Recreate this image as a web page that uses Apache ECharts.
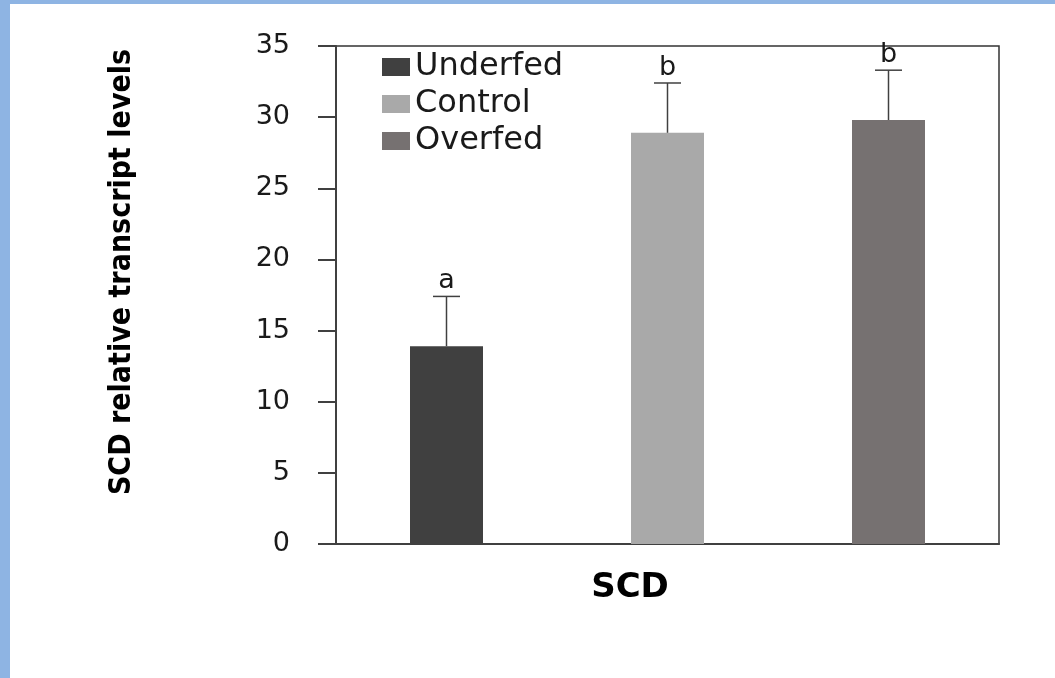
<!DOCTYPE html>
<html>
<head>
<meta charset="utf-8">
<script src="https://cdn.jsdelivr.net/npm/echarts@6/dist/echarts.min.js"></script>
<style>
  html, body { margin: 0; padding: 0; }
  #frame { position: relative; width: 1055px; height: 678px; background: #8eb4e3; }
  #chart { position: absolute; left: 10px; top: 4px; width: 1045px; height: 674px; background: #fff; }
</style>
</head>
<body>
<div id="frame"><div id="chart"></div></div>
<script>
var categories = ['Underfed', 'Control', 'Overfed'];
var means = [13.9, 28.9, 29.8];
var errors = [3.5, 3.5, 3.5];
var letters = ['a', 'b', 'b'];
var yTicks = [0, 5, 10, 15, 20, 25, 30, 35];

var barColors = ['#404040', '#a9a9a9', '#767171'];

var myChart = echarts.init(document.getElementById('chart'));

// one bar series per group so the legend gets three entries
var barSeries = categories.map(function (name, i) {
    var d = categories.map(function (c, j) { return j === i ? means[i] : '-'; });
    return {
        name: name,
        type: 'bar',
        barWidth: 73,
        barGap: '-100%',
        itemStyle: {color: barColors[i]},
        data: d
    };
});

var errData = means.map(function (m, i) { return [i, m, m + errors[i]]; });

var option = {
    animation: false,
    backgroundColor: '#fff',
    grid: {left: 326, right: 56, top: 42, bottom: 134, show: true, borderColor: '#333', borderWidth: 1.5},
    legend: {
        orient: 'vertical',
        left: 367,
        top: 42,
        itemWidth: 28,
        itemHeight: 18,
        itemGap: 5,
        icon: 'rect',
        data: categories,
        textStyle: {fontFamily: 'DejaVu Sans', fontSize: 32, color: '#1a1a1a', lineHeight: 30}
    },
    xAxis: {
        type: 'category',
        data: categories,
        axisLine: {lineStyle: {color: '#404040', width: 2}},
        axisTick: {show: false},
        axisLabel: {show: false}
    },
    yAxis: {
        type: 'value',
        min: yTicks[0],
        max: yTicks[yTicks.length - 1],
        interval: 5,
        splitLine: {show: false},
        axisLine: {show: true, lineStyle: {color: '#404040', width: 2}},
        axisTick: {show: true, length: 18, lineStyle: {color: '#404040', width: 2}},
        axisLabel: {margin: 46, fontFamily: 'DejaVu Sans', fontSize: 27, color: '#1a1a1a'}
    },
    graphic: [
        {
            type: 'text',
            x: 112, y: 268,
            rotation: Math.PI / 2,
            style: {
                text: 'SCD relative transcript levels',
                font: 'bold 30px "Liberation Sans Narrow", "DejaVu Sans Condensed", "DejaVu Sans", sans-serif',
                fill: '#000',
                textAlign: 'center',
                textVerticalAlign: 'middle'
            }
        },
        {
            type: 'text',
            x: 620, y: 584,
            style: {
                text: 'SCD',
                font: 'bold 34px "DejaVu Sans", sans-serif',
                fill: '#000',
                textAlign: 'center',
                textVerticalAlign: 'middle'
            }
        }
    ],
    series: barSeries.concat([{
        type: 'custom',
        z: 5,
        data: errData,
        encode: {x: 0, y: [1, 2]},
        renderItem: function (params, api) {
            var base = api.coord([api.value(0), api.value(1)]);
            var top = api.coord([api.value(0), api.value(2)]);
            var cap = 13.5;
            return {
                type: 'group',
                children: [
                    {type: 'line', shape: {x1: base[0], y1: base[1], x2: top[0], y2: top[1]},
                        style: {stroke: '#404040', lineWidth: 1.5}},
                    {type: 'line', shape: {x1: top[0] - cap, y1: top[1], x2: top[0] + cap, y2: top[1]},
                        style: {stroke: '#404040', lineWidth: 1.5}},
                    {type: 'text', x: top[0], y: top[1] - 2,
                        style: {text: letters[params.dataIndex], font: '27px "DejaVu Sans", sans-serif',
                            fill: '#1a1a1a', textAlign: 'center', textVerticalAlign: 'bottom'}}
                ]
            };
        }
    }])
};

myChart.setOption(option, true);
</script>
</body>
</html>
